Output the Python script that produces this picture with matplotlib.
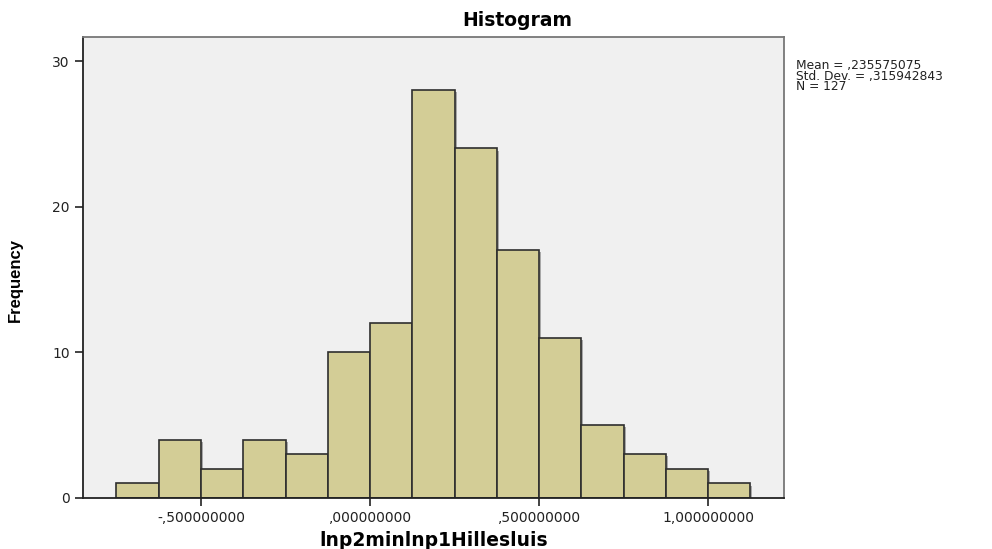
import numpy as np
import matplotlib
matplotlib.use("Agg")
import matplotlib.pyplot as plt
import matplotlib.patheffects as pe

plt.rcParams["font.family"] = ["DejaVu Sans"]

# histogram bins (width 0.125) and counts per bin
bin_edges = [-0.75, -0.625, -0.5, -0.375, -0.25, -0.125, 0.0, 0.125, 0.25,
             0.375, 0.5, 0.625, 0.75, 0.875, 1.0, 1.125]
counts = [1, 4, 2, 4, 3, 10, 12, 28, 24, 17, 11, 5, 3, 2, 1]

x_ticks = [-0.5, 0.0, 0.5, 1.0]
x_tick_labels = ["-,500000000", ",000000000", ",500000000", "1,000000000"]
y_ticks = [0, 10, 20, 30]

stats_text = "Mean = ,235575075\nStd. Dev. = ,315942843\nN = 127"

fig = plt.figure(figsize=(9.92, 5.49), dpi=100)
ax = fig.add_axes([0.0837, 0.0929, 0.7067, 0.8397])
ax.set_facecolor("#f0f0f0")

lefts = np.array(bin_edges[:-1])
widths = np.diff(bin_edges)
bars = ax.bar(lefts, counts, width=widths, align="edge",
              color="#d3cd96", edgecolor="#2e2e2e", linewidth=1.2, zorder=2)
for b in bars:
    b.set_path_effects([pe.SimplePatchShadow(offset=(1.5, -1.5), shadow_rgbFace="#8a8a8a", alpha=0.7),
                        pe.Normal()])

ax.set_xlim(-0.849, 1.225)
ax.set_ylim(0, 31.65)

ax.set_xticks(x_ticks)
ax.set_xticklabels(x_tick_labels)
ax.set_yticks(y_ticks)
ax.tick_params(axis="both", direction="out", length=6, width=1.2,
               color="#222222", labelsize=10, labelcolor="#222222")

for side in ["left", "bottom"]:
    ax.spines[side].set_color("#222222")
    ax.spines[side].set_linewidth(1.3)
for side in ["top", "right"]:
    ax.spines[side].set_color("#777777")
    ax.spines[side].set_linewidth(1.3)

ax.set_xlabel("lnp2minlnp1Hillesluis", fontsize=13.5, fontweight="bold", labelpad=4)
fig.text(0.016, 0.49, "Frequency", rotation=90, ha="center", va="center",
         fontsize=12, fontweight="bold",
         family=["Liberation Sans Narrow", "Liberation Sans", "DejaVu Sans"])

fig.text(0.521, 0.962, "Histogram", ha="center", va="center",
         fontsize=13.5, fontweight="bold")

fig.text(0.802, 0.893, stats_text, ha="left", va="top", fontsize=8.8,
         linespacing=0.78, color="#222222")

fig.savefig("out.png", dpi=100)
